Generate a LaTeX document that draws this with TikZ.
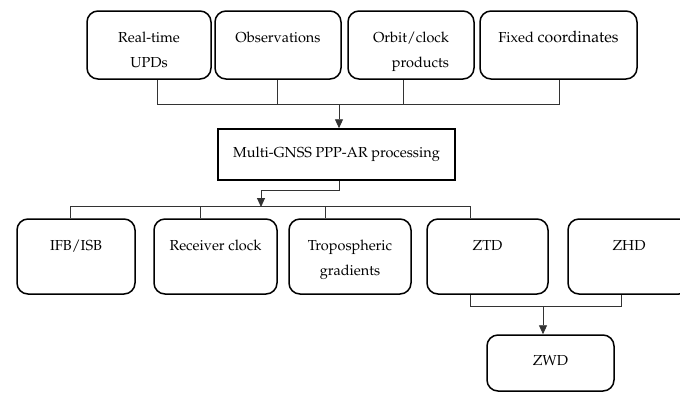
\documentclass[tikz,border=0pt]{standalone}
\usepackage[T1]{fontenc}
\usepackage{mathpazo}
\usetikzlibrary{arrows.meta}
\begin{document}
\begin{tikzpicture}[x=1pt,y=-1pt,
  box/.style={draw, line width=1.5pt, rounded corners=11pt, align=center, inner sep=0pt,
    font=\fontsize{14.5}{25.5}\selectfont, text height=31pt},
  two/.style={text height=56.5pt},
  proc/.style={draw, line width=1.5pt, align=center, inner sep=0pt, font=\fontsize{14.5}{17}\selectfont},
  conn/.style={draw=black!80, line width=0.9pt},
  arr/.style={conn, -{Triangle[length=9pt,width=8pt]}}]
\useasboundingbox (0,0) rectangle (680,392);
% top row
\node[box, two, minimum width=124pt, text depth=11.5pt] (upd) at (149,45) {Real-time\\UPDs};
\node[box, minimum width=126pt, text depth=37pt] (obs) at (278,45) {Observations};
\node[box, two, minimum width=126pt, text depth=11.5pt, align=right] (orb) at (411,45) {Orbit/clock\\products};
\node[box, minimum width=157pt, text depth=37pt] (fix) at (558.5,45) {Fixed {\fontsize{15.8}{25.5}\selectfont coordinates}};
% processing
\node[proc, minimum width=237pt, minimum height=51pt] (proc) at (336.5,154.5) {Multi-GNSS PPP-AR processing};
% bottom row
\node[box, minimum width=118pt, text depth=44pt] (ifb) at (76,256.5) {IFB/ISB};
\node[box, minimum width=123pt, text depth=44pt] (rcv) at (215.5,256.5) {Receiver clock};
\node[box, two, minimum width=122pt, text depth=18.5pt] (trop) at (350,256.5) {Tropospheric\\gradients};
\node[box, minimum width=121pt, text depth=44pt] (ztd) at (487.5,256.5) {ZTD};
\node[box, minimum width=122pt, text depth=44pt] (zhd) at (629,256.5) {ZHD};
\node[box, minimum width=127pt, text height=30pt, text depth=26pt] (zwd) at (550.5,363) {ZWD};
% top connectors
\coordinate (tj) at (339,104);
\draw[conn] ([xshift=8pt]upd.south) -- ++(0,25) -| ([xshift=0.5pt]fix.south);
\draw[conn] ([xshift=-1pt]obs.south) -- ++(0,25);
\draw[conn] ([xshift=-8pt]orb.south) -- ++(0,25);
\draw[arr] (tj) -- (tj |- proc.north);
% processing to bottom row
\coordinate (bk) at (261,190);
\coordinate (bj) at (261,207);
\draw[arr] ([xshift=2.5pt]proc.south) |- (bk) -- (bj);
\draw[conn] ([xshift=-6pt]ifb.north) -- ++(0,-12) -| ([xshift=-17.5pt]ztd.north);
\draw[conn] ([xshift=-15.5pt]rcv.north) -- ++(0,-12);
\draw[conn] ([xshift=-25pt]trop.north) -- ++(0,-12);
% ZTD/ZHD to ZWD
\coordinate (zj) at (543,306);
\draw[conn] ([xshift=-17.5pt]ztd.south) -- ++(0,12) -| ([xshift=-8pt]zhd.south);
\draw[arr] (zj) -- (zj |- zwd.north);
\end{tikzpicture}
\end{document}
